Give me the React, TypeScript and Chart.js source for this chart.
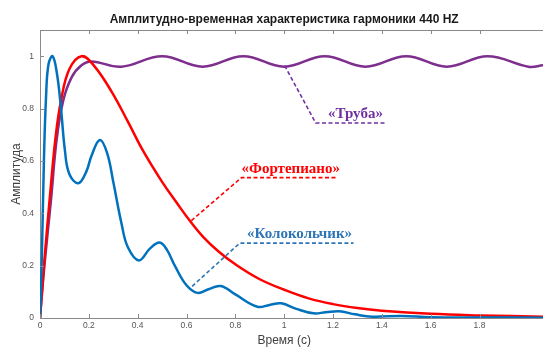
import React, { useEffect, useRef } from 'react';
import { Chart, registerables } from 'chart.js';

Chart.register(...registerables);

const TITLE = 'Амплитудно-временная характеристика гармоники 440 HZ';
const X_LABEL = 'Время (с)';
const Y_LABEL = 'Амплитуда';

const X_TICKS = [0, 0.2, 0.4, 0.6, 0.8, 1, 1.2, 1.4, 1.6, 1.8];
const Y_TICKS = [0, 0.2, 0.4, 0.6, 0.8, 1];

// «Колокольчик» (bell)
const bellX = [0, 0.008, 0.016, 0.025, 0.035, 0.052, 0.07, 0.086, 0.102, 0.12, 0.157, 0.19, 0.211, 0.245, 0.275, 0.3, 0.334, 0.36, 0.405, 0.45, 0.49, 0.52, 0.552, 0.6, 0.645, 0.69, 0.74, 0.8, 0.89, 0.94, 0.988, 1.05, 1.12, 1.17, 1.225, 1.29, 1.36, 1.48, 1.6, 1.8, 2.06];
const bellY = [0, 0.25, 0.6, 0.85, 0.97, 1.0, 0.93, 0.8, 0.64, 0.55, 0.515, 0.56, 0.62, 0.68, 0.63, 0.52, 0.36, 0.27, 0.22, 0.265, 0.288, 0.26, 0.2, 0.125, 0.096, 0.11, 0.122, 0.09, 0.043, 0.05, 0.056, 0.035, 0.018, 0.022, 0.026, 0.014, 0.005, 0.008, 0.003, 0.002, 0.001];

// «Фортепиано» (piano)
const pianoX = [0, 0.018, 0.044, 0.065, 0.086, 0.12, 0.17, 0.22, 0.293, 0.36, 0.423, 0.5, 0.56, 0.613, 0.668, 0.73, 0.8, 0.9, 1.0, 1.1, 1.2, 1.3, 1.4, 1.6, 1.8, 2.06];
const pianoY = [0, 0.22, 0.5, 0.7, 0.83, 0.95, 1.0, 0.965, 0.865, 0.75, 0.637, 0.52, 0.44, 0.372, 0.31, 0.255, 0.205, 0.148, 0.108, 0.075, 0.053, 0.038, 0.028, 0.016, 0.01, 0.005];

// «Труба» (trumpet)
const trumpetX = [0, 0.018, 0.045, 0.068, 0.095, 0.13, 0.17, 0.21, 0.333, 0.5, 0.666, 0.833, 1.0, 1.166, 1.333, 1.5, 1.666, 1.833, 2.0, 2.06];
const trumpetY = [0, 0.2, 0.45, 0.68, 0.83, 0.92, 0.965, 0.98, 0.96, 1.0, 0.96, 1.0, 0.96, 1.0, 0.96, 1.0, 0.96, 1.0, 0.96, 0.965];

// annotation leaders (data units)
const trumpetLeaderX = [1.002, 1.129, 1.418];
const trumpetLeaderY = [0.964, 0.745, 0.745];
const pianoLeaderX = [0.62, 0.825, 1.219];
const pianoLeaderY = [0.372, 0.536, 0.536];
const bellLeaderX = [0.623, 0.818, 1.284];
const bellLeaderY = [0.121, 0.286, 0.286];

const LABELS = ['«Труба»', '«Фортепиано»', '«Колокольчик»'];
const LABEL_X = [1.292, 1.027, 1.063];
const LABEL_Y = [0.778, 0.569, 0.321];
const LABEL_COLORS = ['#7030A0', '#FF0000', '#2E75B6'];

const X_MAX = 2.06;
const Y_MAX = 1.1;

const zip = (xs: number[], ys: number[]) => xs.map((x, i) => ({ x, y: ys[i] }));

const AXIS_COLOR = '#8a8a8a';
const SANS = '"Liberation Sans", Arial, Helvetica, sans-serif';

const decorPlugin = {
  id: 'decor',
  afterDatasetsDraw(chart: any) {
    const { ctx, chartArea, scales } = chart;
    const xs = scales.x;
    const ys = scales.y;
    ctx.save();
    ctx.strokeStyle = AXIS_COLOR;
    ctx.lineWidth = 1;
    ctx.beginPath();
    ctx.moveTo(chartArea.left, chartArea.top + 0.5);
    ctx.lineTo(chartArea.right, chartArea.top + 0.5);
    X_TICKS.forEach((v) => {
      const px = Math.round(xs.getPixelForValue(v)) + 0.5;
      ctx.moveTo(px, chartArea.bottom);
      ctx.lineTo(px, chartArea.bottom - 4);
      ctx.moveTo(px, chartArea.top);
      ctx.lineTo(px, chartArea.top + 4);
    });
    Y_TICKS.forEach((v) => {
      const py = Math.round(ys.getPixelForValue(v)) + 0.5;
      ctx.moveTo(chartArea.left, py);
      ctx.lineTo(chartArea.left + 4, py);
    });
    ctx.stroke();

    ctx.textAlign = 'center';
    ctx.textBaseline = 'middle';
    ctx.font = 'bold 15px "Liberation Serif", "Times New Roman", serif';
    LABELS.forEach((t, i) => {
      ctx.fillStyle = LABEL_COLORS[i];
      ctx.fillText(t, xs.getPixelForValue(LABEL_X[i]), ys.getPixelForValue(LABEL_Y[i]));
    });

    const cx = xs.getPixelForValue(1);
    ctx.fillStyle = '#1a1a1a';
    ctx.font = 'bold 12px ' + SANS;
    ctx.fillText(TITLE, cx, chartArea.top - 10);

    ctx.fillStyle = '#404040';
    ctx.font = '12px ' + SANS;
    ctx.fillText(X_LABEL, cx, chartArea.bottom + 23);
    ctx.translate(17, (chartArea.top + chartArea.bottom) / 2);
    ctx.rotate(-Math.PI / 2);
    ctx.fillText(Y_LABEL, 0, 0);
    ctx.restore();
  },
};

export default function App() {
  const ref = useRef<HTMLCanvasElement>(null);
  useEffect(() => {
    if (!ref.current) return;
    const lineDs = (label: string, data: any[], color: string) => ({
      label,
      data,
      borderColor: color,
      backgroundColor: color,
      borderWidth: 2.5,
      pointRadius: 0,
      tension: 0.4,
      fill: false,
    });
    const leaderDs = (label: string, data: any[], color: string) => ({
      label,
      data,
      borderColor: color,
      borderWidth: 1.6,
      borderDash: [4, 2.5],
      pointRadius: 0,
      tension: 0,
      fill: false,
    });
    const chart = new Chart(ref.current, {
      type: 'line',
      data: {
        datasets: [
          leaderDs('lt', zip(trumpetLeaderX, trumpetLeaderY), '#7030A0'),
          leaderDs('lp', zip(pianoLeaderX, pianoLeaderY), '#FF0000'),
          leaderDs('lb', zip(bellLeaderX, bellLeaderY), '#2E75B6'),
          lineDs('Колокольчик', zip(bellX, bellY), '#0072BD'),
          lineDs('Фортепиано', zip(pianoX, pianoY), '#FF0000'),
          lineDs('Труба', zip(trumpetX, trumpetY), '#7E2F8E'),
        ],
      },
      options: {
        responsive: false,
        animation: false,
        layout: { padding: { top: 30, right: 0, left: 0, bottom: 0 } },
        plugins: { legend: { display: false }, title: { display: false }, tooltip: { enabled: false } },
        scales: {
          x: {
            type: 'linear',
            min: 0,
            max: X_MAX,
            afterBuildTicks: (s: any) => {
              s.ticks = X_TICKS.map((v) => ({ value: v }));
            },
            afterFit: (s: any) => {
              s.height = 29;
            },
            ticks: {
              autoSkip: false,
              maxRotation: 0,
              padding: 3,
              color: '#555',
              font: { size: 8.5, family: SANS },
              callback: (v: any) => String(Math.round(Number(v) * 10) / 10),
            },
            grid: { display: false, drawTicks: false },
            border: { display: true, color: AXIS_COLOR, width: 1 },
          },
          y: {
            type: 'linear',
            min: 0,
            max: Y_MAX,
            afterBuildTicks: (s: any) => {
              s.ticks = Y_TICKS.map((v) => ({ value: v }));
            },
            afterFit: (s: any) => {
              s.width = 40;
            },
            ticks: {
              autoSkip: false,
              padding: 6,
              color: '#555',
              font: { size: 8.5, family: SANS },
              callback: (v: any) => String(Math.round(Number(v) * 10) / 10),
            },
            grid: { display: false, drawTicks: false },
            border: { display: true, color: AXIS_COLOR, width: 1 },
          },
        },
      },
      plugins: [decorPlugin],
    });
    return () => chart.destroy();
  }, []);
  return (
    <div style={{ position: 'absolute', left: 0, top: 0, width: 543, height: 347, background: '#fff' }}>
      <canvas ref={ref} width={543} height={347} style={{ display: 'block' }} />
    </div>
  );
}
